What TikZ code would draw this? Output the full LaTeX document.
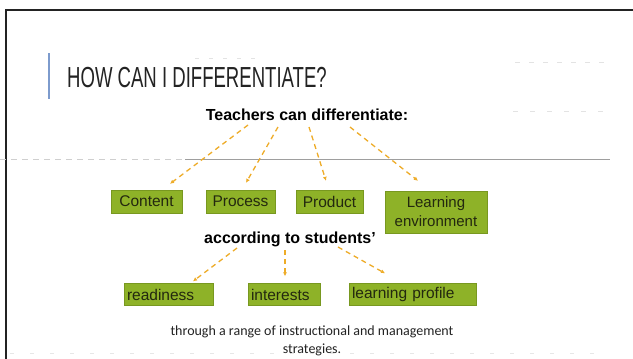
\documentclass[tikz,border=0pt]{standalone}
\usepackage{fontspec}
\setmainfont{Liberation Sans}
\newfontfamily\notefont{Carlito}
\usepackage{graphicx}
\usepackage{tikz}
\usetikzlibrary{positioning,calc,arrows.meta}
\definecolor{boxgreen}{RGB}{142,178,40}
\definecolor{boxedge}{RGB}{120,152,32}
\definecolor{boxtext}{RGB}{35,40,15}
\definecolor{dashorange}{RGB}{238,172,40}
\definecolor{titleblue}{RGB}{125,155,205}
\definecolor{titlec}{RGB}{35,35,35}
\definecolor{ghost}{RGB}{175,175,175}

\begin{document}
\begin{tikzpicture}[x=1pt,y=-1pt,
  box/.style={draw=boxedge,fill=boxgreen,text=boxtext,inner sep=0pt,minimum height=23pt,font=\fontsize{15.5}{18}\selectfont},
  lowbox/.style={box,inner xsep=3pt,align=left,minimum height=22pt},
  arr/.style={draw=dashorange,line width=1.3pt,dash pattern=on 5pt off 4pt,-{Latex[length=4pt,width=4pt]}},
  head/.style={font=\bfseries\fontsize{16}{18}\selectfont,inner sep=0pt,anchor=base}]
\useasboundingbox[fill=white] (0,0) rectangle (633,359);

% slide frame and faint lines
\draw[line width=1.5pt,titlec] (633,10) -- (6,10) -- (6,359);
\draw[ghost!60,line width=0.5pt,dash pattern=on 6pt off 5pt] (0,159) -- (185,159);
\draw[ghost!90!black,line width=0.6pt] (185,159) -- (610,159);
\draw[ghost!35,line width=0.5pt,dash pattern=on 5pt off 9pt] (515,62) -- (612,62);
\draw[ghost!35,line width=0.5pt,dash pattern=on 5pt off 12pt] (513,111) -- (605,111);
\draw[ghost!35,line width=0.5pt,dash pattern=on 4pt off 10pt] (195,58) -- (262,58);
\draw[ghost!30,line width=0.5pt,dash pattern=on 4pt off 16pt] (10,353) -- (600,353);

% title
\draw[titleblue,line width=1.2pt] (49,53) -- (49,99);
\node (title) at (67,87) [anchor=base west,inner sep=0pt,text=titlec,font=\fontsize{29}{30}\selectfont] {\scalebox{0.64}[1]{HOW CAN I DIFFERENTIATE?}};

\node (teach) at (307,120) [head] {Teachers can differentiate:};

\node (content) at (146.5,201.5) [box,minimum width=71pt] {Content};
\node (process) at (240.5,201.5) [box,minimum width=69pt] {Process};
\node (product) at (329.5,201.5) [box,minimum width=67pt] {Product};
\node (learnenv) at (436,212) [box,minimum width=102pt,minimum height=42pt,align=center,font=\fontsize{15}{19}\selectfont] {Learning\\environment};

\node (students) at (290,243) [head] {according to students'};

\node (ready) at (168.5,294.5) [lowbox,text width=83pt] {readiness};
\node (interest) at (284,294.5) [lowbox,text width=66pt] {interests};
\node (profile) at (412.5,294.5) [lowbox,text width=121pt] {learning profile};

\node (strat) at (312,341) [align=center,inner sep=0pt,text=titlec,font=\notefont\fontsize{14}{18}\selectfont] {through a range of instructional and management\\strategies.};

\draw[arr] ($(teach.base)+(-59,5)$) -- ($(content.north)+(23.5,-6)$);
\draw[arr] ($(teach.base)+(-29,7)$) -- ($(process.north)+(5.5,-7)$);
\draw[arr] ($(teach.base)+(2,7)$) -- ($(product.north)+(-3.5,-9)$);
\draw[arr] ($(teach.base)+(43,7)$) -- ($(learnenv.north)+(-18,-10)$);

\draw[arr] ($(students.base)+(-53,5)$) -- ($(ready.north)+(24.5,-2)$);
\draw[arr] ($(students.base)+(-5,7)$) -- ($(interest.north)+(1,-7)$);
\draw[arr] ($(students.base)+(48,4)$) -- ($(profile.north)+(-27.5,-10)$);
\end{tikzpicture}
\end{document}
